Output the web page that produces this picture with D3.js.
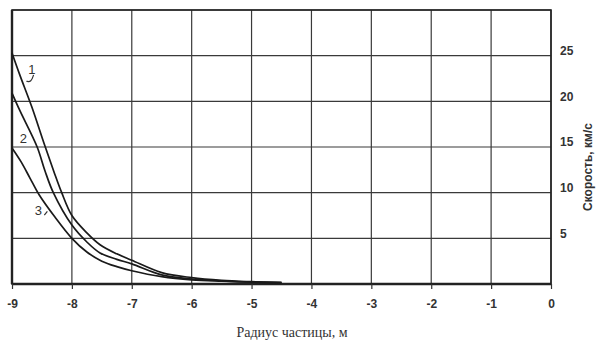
<!DOCTYPE html>
<html>
<head>
<meta charset="utf-8">
<script src="https://cdn.jsdelivr.net/npm/d3@7"></script>
<style>
  body { margin: 0; background: #fff; }
</style>
</head>
<body>
<svg id="chart" width="606" height="340"></svg>
<script>
// x ticks: log10 of particle radius, y ticks: speed km/s
const xTicks = [-9, -8, -7, -6, -5, -4, -3, -2, -1, 0];
const yTicks = [5, 10, 15, 20, 25];
const yGrid = [0, 5, 10, 15, 20, 25, 30];

// curve 1
const radius1 = [-9, -8.87, -8.67, -8.46, -8.3, -8.17, -8, -7.75, -7.53, -7.25, -7, -6.5, -6, -5.5, -5, -4.5];
const speed1  = [25.3, 22.9, 19.4, 15.3, 12.3, 10, 7.5, 5.6, 4.3, 3.3, 2.6, 1.25, 0.7, 0.4, 0.25, 0.15];
// curve 2
const radius2 = [-9, -8.87, -8.58, -8.45, -8.31, -8, -7.75, -7.53, -7.25, -7, -6.5, -6, -5.5, -5, -4.5];
const speed2  = [20.9, 19, 15, 12.4, 10, 6.45, 4.6, 3.4, 2.7, 2.2, 1.0, 0.55, 0.35, 0.22, 0.15];
// curve 3
const radius3 = [-9, -8.85, -8.7, -8.55, -8.28, -8, -7.75, -7.5, -7.25, -7, -6.5, -6, -5.5, -5, -4.5];
const speed3  = [14.9, 13.4, 11.6, 9.8, 7.3, 5.0, 3.5, 2.5, 1.9, 1.45, 0.8, 0.45, 0.3, 0.2, 0.15];

const curveLabels = ['1', '2', '3'];

(function chart(){
  const svg = d3.select('#chart');
  const margin = { top: 10, right: 55, bottom: 56, left: 12 };
  const w = 606 - margin.left - margin.right;
  const h = 340 - margin.top - margin.bottom;

  const x = d3.scaleLinear().domain([-9, 0]).range([0, w]);
  const y = d3.scaleLinear().domain([0, 30]).range([h, 0]);

  const g = svg.append('g').attr('transform', `translate(${margin.left},${margin.top})`);

  // grid
  g.selectAll('line.vgrid')
    .data(xTicks)
    .join('line')
      .attr('class', 'vgrid')
      .attr('x1', d => x(d)).attr('x2', d => x(d))
      .attr('y1', 0).attr('y2', h)
      .attr('stroke', '#3a3a3a').attr('stroke-width', 1.2);

  g.selectAll('line.hgrid')
    .data(yGrid)
    .join('line')
      .attr('class', 'hgrid')
      .attr('x1', 0).attr('x2', w)
      .attr('y1', d => y(d)).attr('y2', d => y(d))
      .attr('stroke', '#3a3a3a').attr('stroke-width', 1.2);

  // frame
  g.append('rect')
    .attr('x', 0).attr('y', 0)
    .attr('width', w).attr('height', h)
    .attr('fill', 'none')
    .attr('stroke', '#222').attr('stroke-width', 1.6);
  g.append('line')
    .attr('x1', 0).attr('x2', 0).attr('y1', 0).attr('y2', h)
    .attr('stroke', '#222').attr('stroke-width', 2.4);
  g.append('line')
    .attr('x1', 0).attr('x2', w).attr('y1', h).attr('y2', h)
    .attr('stroke', '#222').attr('stroke-width', 2.4);

  // x axis (ticks below)
  const xAxis = g.append('g')
    .attr('transform', `translate(0,${h})`)
    .call(d3.axisBottom(x).tickValues(xTicks).tickSize(5).tickSizeOuter(0).tickPadding(10).tickFormat(d3.format('d')));
  xAxis.select('.domain').remove();
  xAxis.selectAll('line').attr('stroke', '#333').attr('stroke-width', 1.2);
  xAxis.selectAll('text')
    .attr('font-family', '"Liberation Sans", Arial, sans-serif')
    .attr('font-weight', 'bold')
    .attr('font-size', 12)
    .attr('fill', '#333')
    .text(d => d === 0 ? '0' : '-' + Math.abs(d));

  // y axis labels on the right
  const yAxis = g.append('g')
    .attr('transform', `translate(${w},0)`)
    .call(d3.axisRight(y).tickValues(yTicks).tickSize(0).tickPadding(9));
  yAxis.select('.domain').remove();
  yAxis.selectAll('text')
    .attr('font-family', '"Liberation Sans", Arial, sans-serif')
    .attr('font-weight', 'bold')
    .attr('font-size', 12)
    .attr('fill', '#333')
    .attr('dy', '-0.1em');

  // curves
  const series = [
    { xs: radius1, ys: speed1 },
    { xs: radius2, ys: speed2 },
    { xs: radius3, ys: speed3 }
  ];
  const line = d3.line()
    .x(d => x(d[0]))
    .y(d => y(d[1]))
    .curve(d3.curveCatmullRom.alpha(0.5));

  g.selectAll('path.curve')
    .data(series)
    .join('path')
      .attr('class', 'curve')
      .attr('d', s => line(s.xs.map((v, i) => [v, s.ys[i]])))
      .attr('fill', 'none')
      .attr('stroke', '#1a1a1a')
      .attr('stroke-width', 1.7);

  // curve number labels
  const labelPos = [[-8.67, 23.0], [-8.81, 15.4], [-8.56, 7.55]];
  g.selectAll('text.clabel')
    .data(curveLabels)
    .join('text')
      .attr('class', 'clabel')
      .attr('x', (d, i) => x(labelPos[i][0]))
      .attr('y', (d, i) => y(labelPos[i][1]))
      .attr('text-anchor', 'middle')
      .attr('font-family', '"Liberation Sans", Arial, sans-serif')
      .attr('font-size', 13)
      .attr('fill', '#333')
      .text(d => d);

  // leader strokes
  const leader = d3.line().x(d => x(d[0])).y(d => y(d[1])).curve(d3.curveBasis);
  g.append('path')
    .attr('d', leader([[-8.76, 22.2], [-8.68, 22.1], [-8.64, 22.9]]))
    .attr('fill', 'none').attr('stroke', '#333').attr('stroke-width', 1.2);
  g.append('path')
    .attr('d', leader([[-8.46, 7.55], [-8.41, 7.95]]))
    .attr('fill', 'none').attr('stroke', '#333').attr('stroke-width', 1.2);

  // axis titles
  svg.append('text')
    .attr('x', 292).attr('y', 337)
    .attr('text-anchor', 'middle')
    .attr('font-family', '"Liberation Serif", "Times New Roman", serif')
    .attr('font-size', 14)
    .attr('fill', '#333')
    .text('Радиус частицы, м');

  svg.append('text')
    .attr('transform', 'translate(592,167) rotate(-90)')
    .attr('text-anchor', 'middle')
    .attr('font-family', '"Liberation Sans", Arial, sans-serif')
    .attr('font-weight', 'bold')
    .attr('font-size', 12)
    .attr('fill', '#333')
    .text('Скорость, км/с');
})();
</script>
</body>
</html>
